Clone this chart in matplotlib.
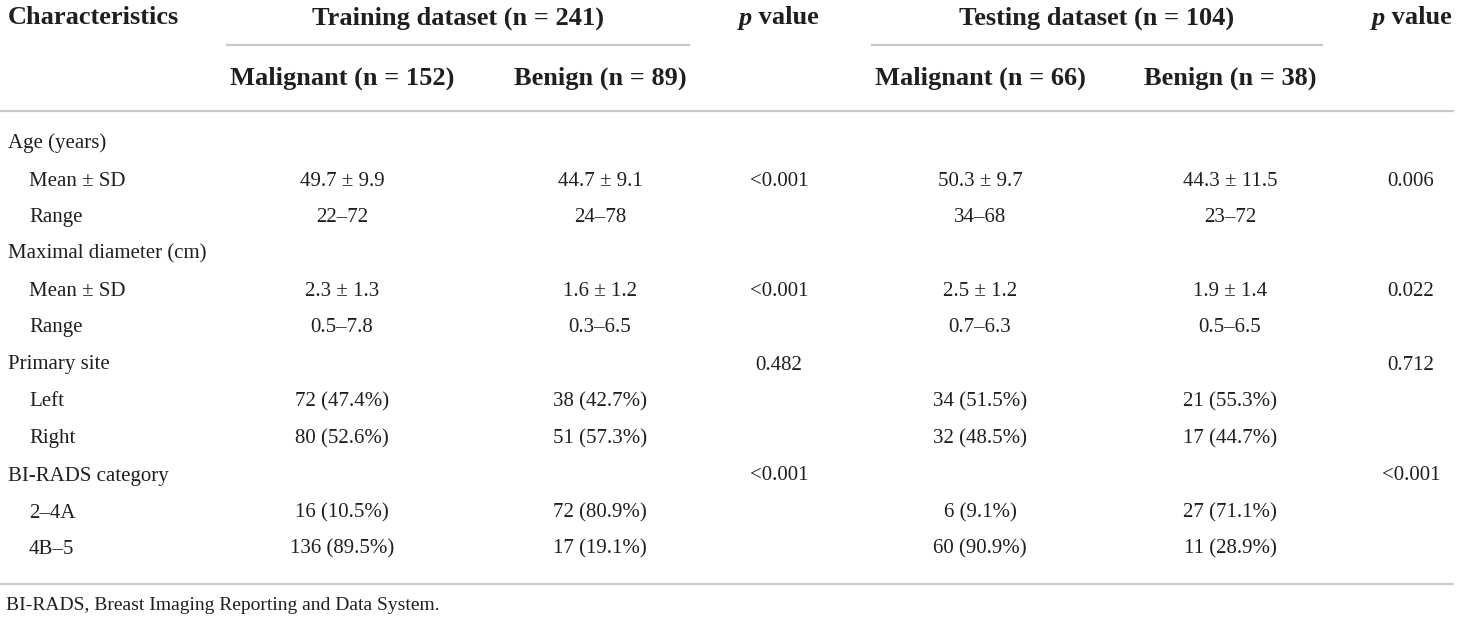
import matplotlib
matplotlib.use("Agg")
import matplotlib.pyplot as plt
from matplotlib.lines import Line2D

# table content
characteristics = ["Age (years)", "Mean ± SD", "Range", "Maximal diameter (cm)", "Mean ± SD", "Range",
                   "Primary site", "Left", "Right", "BI-RADS category", "2–4A", "4B–5"]
indent = [0, 1, 1, 0, 1, 1, 0, 1, 1, 0, 1, 1]
train_malignant = ["", "49.7 ± 9.9", "22–72", "", "2.3 ± 1.3", "0.5–7.8", "",
                   "72 (47.4%)", "80 (52.6%)", "", "16 (10.5%)", "136 (89.5%)"]
train_benign = ["", "44.7 ± 9.1", "24–78", "", "1.6 ± 1.2", "0.3–6.5", "",
                "38 (42.7%)", "51 (57.3%)", "", "72 (80.9%)", "17 (19.1%)"]
train_p = ["", "<0.001", "", "", "<0.001", "", "0.482", "", "", "<0.001", "", ""]
test_malignant = ["", "50.3 ± 9.7", "34–68", "", "2.5 ± 1.2", "0.7–6.3", "",
                  "34 (51.5%)", "32 (48.5%)", "", "6 (9.1%)", "60 (90.9%)"]
test_benign = ["", "44.3 ± 11.5", "23–72", "", "1.9 ± 1.4", "0.5–6.5", "",
               "21 (55.3%)", "17 (44.7%)", "", "27 (71.1%)", "11 (28.9%)"]
test_p = ["", "0.006", "", "", "0.022", "", "0.712", "", "", "<0.001", "", ""]

group_titles = ["Training dataset (n = 241)", "Testing dataset (n = 104)"]
sub_titles = ["Malignant (n = 152)", "Benign (n = 89)", "Malignant (n = 66)", "Benign (n = 38)"]
footnote = "BI-RADS, Breast Imaging Reporting and Data System."

W, H = 1460, 624
fig = plt.figure(figsize=(W / 100, H / 100), dpi=100)
fig.patch.set_facecolor("white")

SERIF = "Liberation Serif"
TXT = "#1f1f1f"
RULE = "#c8c8c8"


def fx(x):
    return x / W


def fy(y):
    # y measured from the top, in pixels
    return 1 - y / H


def put(x, y, s, ha="center", size=15, weight="normal", style="normal"):
    return fig.text(fx(x), fy(y), s, ha=ha, va="center", fontsize=size, fontweight=weight,
                    fontstyle=style, family=SERIF, color=TXT)


def hline(x0, x1, y, lw=1.6):
    fig.add_artist(Line2D([fx(x0), fx(x1)], [fy(y), fy(y)], color=RULE, lw=lw,
                          transform=fig.transFigure))


col_x = [342, 600, 779, 980, 1230, 1411]
cols = [train_malignant, train_benign, train_p, test_malignant, test_benign, test_p]

# header
HDR = 19
put(8, 18, "Characteristics", ha="left", size=HDR, weight="bold")
put(458, 18, group_titles[0], size=HDR, weight="bold")
put(1097, 18, group_titles[1], size=HDR, weight="bold")
for s, x in zip(sub_titles, [col_x[0], col_x[1], col_x[3], col_x[4]]):
    put(x, 78, s, size=HDR, weight="bold")

# "p value" with italic p, centred over the p columns
renderer = fig.canvas.get_renderer()
for x in [col_x[2], col_x[5] + 1]:
    t1 = put(0, 18, "p", ha="left", size=HDR, weight="bold", style="italic")
    t2 = put(0, 18, " value", ha="left", size=HDR, weight="bold")
    w1 = t1.get_window_extent(renderer).width
    w2 = t2.get_window_extent(renderer).width
    left = min(x - (w1 + w2) / 2, W - 8 - w1 - w2)
    t1.set_x(fx(left))
    t2.set_x(fx(left + w1))

hline(227, 689, 45)
hline(872, 1322, 45)
hline(0, 1453, 111)

# body rows
row_y = [143.5, 181, 217.5, 254, 291, 327.5, 365, 402, 439, 476, 513, 549]
for i, y in enumerate(row_y):
    put(8 + 21 * indent[i], y, characteristics[i], ha="left")
    for x, c in zip(col_x, cols):
        if c[i]:
            put(x, y, c[i])

hline(0, 1453, 584)
put(6, 606, footnote, ha="left", size=14)

fig.savefig("out.png", dpi=100, facecolor="white")
